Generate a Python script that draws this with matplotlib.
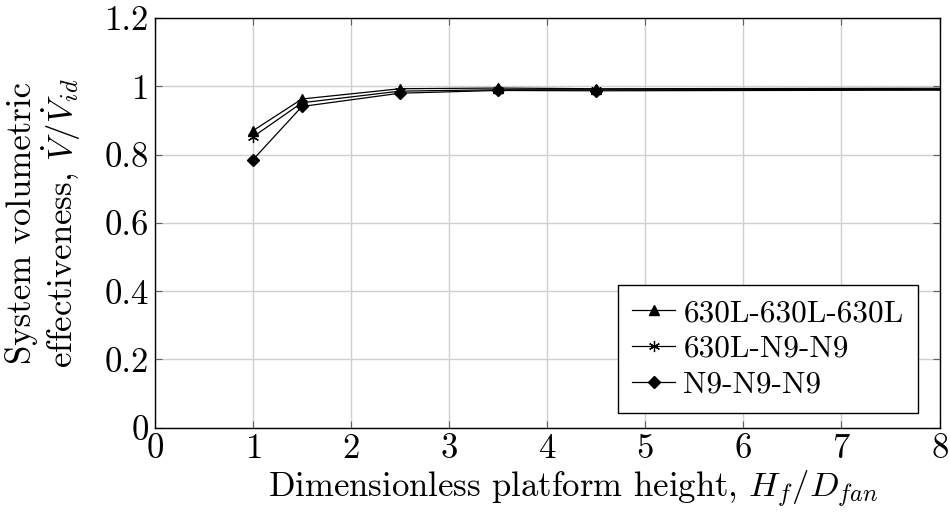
import matplotlib
matplotlib.use('Agg')
import matplotlib.pyplot as plt

plt.rcParams['font.family'] = 'cmr10'
plt.rcParams['mathtext.fontset'] = 'cm'
plt.rcParams['axes.formatter.use_mathtext'] = True

# platform height ratios and measured effectiveness
hf = [1, 1.5, 2.5, 3.5, 4.5, 10]
eff_630l = [0.870, 0.963, 0.993, 0.995, 0.993, 0.995]
eff_630l_n9 = [0.852, 0.952, 0.986, 0.990, 0.990, 0.991]
eff_n9 = [0.785, 0.941, 0.980, 0.988, 0.987, 0.990]

series_names = ['630L-630L-630L', '630L-N9-N9', 'N9-N9-N9']

fig = plt.figure(figsize=(9.5, 5.16), dpi=100)
ax = fig.add_axes([0.163, 0.171, 0.826, 0.794])

ax.plot(hf, eff_630l, color='black', lw=0.9, marker='^', ms=7.5, label=series_names[0])
ax.plot(hf, eff_630l_n9, color='black', lw=0.9, marker=(6, 2, 0), ms=8, mew=0.9, label=series_names[1])
ax.plot(hf, eff_n9, color='black', lw=0.9, marker='D', ms=6, label=series_names[2])

ax.set_xlim(0, 8)
ax.set_ylim(0, 1.2)
ax.set_xticks(range(0, 9))
ax.set_yticks([0, 0.2, 0.4, 0.6, 0.8, 1.0, 1.2])
ax.set_yticklabels(['0', '0.2', '0.4', '0.6', '0.8', '1', '1.2'])
ax.grid(True, color='#d0d0d0', lw=1)
ax.set_axisbelow(True)
ax.tick_params(direction='in', top=True, right=True, labelsize=25, length=5, color='#606060', pad=4)
for s in ax.spines.values():
    s.set_linewidth(1.0)

ax.set_xlabel(r'Dimensionless platform height, $H_f/D_{fan}$', fontsize=25)
ax.xaxis.set_label_coords(0.533, -0.10)
ax.set_ylabel('System volumetric\n' + r'effectiveness, $\dot{V}/\dot{V}_{id}$', fontsize=25,
              linespacing=1.05)
ax.yaxis.set_label_coords(-0.091, 0.5)

leg = ax.legend(loc='lower right', bbox_to_anchor=(0.972, 0.037), fontsize=22.5, frameon=True,
                fancybox=False, edgecolor='black', framealpha=1, handlelength=1.4,
                handletextpad=0.25, borderpad=0.45, labelspacing=0.25, borderaxespad=0)
leg.get_frame().set_linewidth(1.0)

fig.savefig('out.png', dpi=100)
